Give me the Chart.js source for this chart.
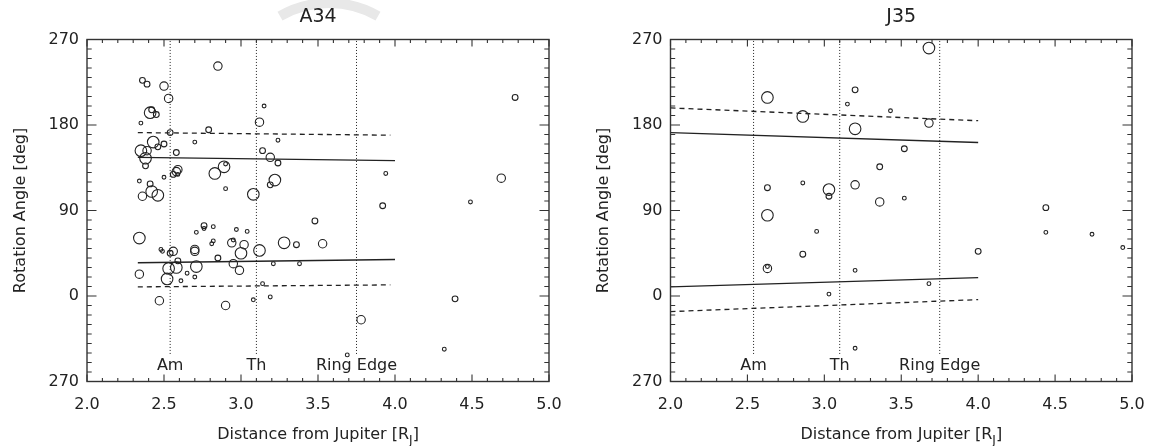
<!DOCTYPE html>
<html>
<head>
<meta charset="utf-8">
<script src="https://cdn.jsdelivr.net/npm/chart.js@4.4.1/dist/chart.umd.min.js"></script>
<style>
  body { margin: 0; background: #fff; }
  #wrap { position: relative; width: 1152px; height: 446px; }
  canvas { position: absolute; top: 0; }
</style>
</head>
<body>
<div id="wrap">
  <canvas id="left" width="576" height="446" style="left:0"></canvas>
  <canvas id="right" width="576" height="446" style="left:576px"></canvas>
</div>
<script>
// ---- data: A34 ----
var a34X = [2.85, 2.36, 2.39, 2.50, 2.53, 2.41, 2.42, 2.45, 2.35, 2.54, 2.79, 3.12, 3.15, 3.24, 2.70,
            2.35, 2.43, 2.39, 2.38, 2.46, 2.50, 2.58, 2.38, 3.14, 3.19, 3.24, 2.89, 2.90, 2.83, 2.59,
            2.58, 2.56, 2.59, 2.50, 2.34, 2.41, 2.42, 2.36, 2.46, 2.90, 3.08, 3.19, 3.22, 3.94, 3.92,
            4.49, 4.69, 4.78, 2.34, 2.76, 2.76, 2.82, 2.97, 3.04, 2.71, 3.48, 2.82, 2.81, 2.94, 2.95,
            3.02, 3.00, 3.12, 3.28, 3.36, 3.53, 2.48, 2.49, 2.54, 2.56, 2.70, 2.70, 2.59, 2.71, 2.85,
            2.95, 2.99, 3.21, 3.38, 2.34, 2.53, 2.58, 2.52, 2.65, 2.70, 2.61, 3.14, 2.47, 2.90, 3.08,
            3.19, 4.39, 3.78, 4.32, 3.69];
var a34Y = [242, 227, 223, 221, 208, 193, 196, 191, 182, 172, 175, 183, 200, 164, 162,
            153, 162, 153, 145, 157, 160, 151, 137, 153, 146, 140, 136, 139, 129, 133,
            131, 128, 128, 125, 121, 118, 110, 105, 106, 113, 107, 117, 122, 129, 95,
            99, 124, 209, 61, 74, 71, 73, 70, 68, 67, 79, 58, 55, 56, 59,
            54, 45, 48, 56, 54, 55, 49, 47, 45, 47, 49, 47, 37, 31, 40,
            34, 27, 34, 34, 23, 29, 30, 18, 24, 20, 16, 13, -5, -10, -4,
            -1, -3, -25, -56, -62];
// weight class of each event (1 = weakest .. 4 = strongest)
var a34W = [3, 2, 2, 3, 3, 4, 2, 2, 1, 2, 2, 3, 1, 1, 1,
            4, 4, 3, 4, 2, 2, 2, 2, 2, 3, 2, 4, 1, 4, 3,
            3, 2, 1, 1, 1, 2, 4, 3, 4, 1, 4, 2, 4, 1, 2,
            1, 3, 2, 4, 2, 1, 1, 1, 1, 1, 2, 1, 1, 3, 1,
            3, 4, 4, 4, 2, 3, 1, 1, 2, 3, 3, 3, 2, 4, 2,
            3, 3, 1, 1, 3, 4, 4, 4, 1, 1, 1, 1, 3, 3, 1,
            1, 2, 3, 1, 1];
var a34FitX = [2.33, 4.0];
var a34SolidUpper = [146, 142.6];
var a34SolidLower = [35, 38.4];
var a34DashX = [2.33, 3.97];
var a34DashUpper = [172, 169.3];
var a34DashLower = [9.6, 11.7];

// ---- data: J35 ----
var j35X = [3.68, 2.63, 3.20, 3.15, 3.43, 2.86, 3.20, 3.68, 3.52, 3.36, 2.63, 2.86, 3.03, 3.03, 3.20,
            3.36, 3.52, 4.44, 2.63, 2.95, 4.44, 4.74, 4.94, 4.00, 2.86, 2.63, 2.63, 3.20, 3.68, 3.03,
            3.20];
var j35Y = [261, 209, 217, 202, 195, 189, 176, 182, 155, 136, 114, 119, 112, 105, 117,
            99, 103, 93, 85, 68, 67, 65, 51, 47, 44, 29, 31, 27, 13, 2,
            -55];
var j35W = [4, 4, 2, 1, 1, 4, 4, 3, 2, 2, 2, 1, 4, 2, 3,
            3, 1, 2, 4, 1, 1, 1, 1, 2, 2, 3, 1, 1, 1, 1,
            1];
var j35FitX = [2.0, 4.0];
var j35SolidUpper = [172, 161.6];
var j35SolidLower = [9.6, 19.4];
var j35DashX = [2.0, 4.0];
var j35DashUpper = [198, 184.5];
var j35DashLower = [-16.4, -3.8];

// ---- ring boundaries ----
var boundX = [2.54, 3.1, 3.75];
var boundNames = ['Am', 'Th', 'Ring Edge'];
var boundSpan = [-61, 270];
var boundLabelY = -74;

// ---- axes ----
var xTicks = [2.0, 2.5, 3.0, 3.5, 4.0, 4.5, 5.0];
var yTicks = [-90, 0, 90, 180, 270];
var yTickLabels = ['270', '0', '90', '180', '270'];

var radiusOf = [0, 1.9, 2.9, 4.2, 5.8];
var ink = '#222';
var font = 'DejaVu Sans';

function pairs(xs, ys) {
  return xs.map(function (x, i) { return { x: x, y: ys[i] }; });
}

function lineSet(xs, ys, dash, w) {
  return {
    type: 'line', data: pairs(xs, ys), showLine: true, pointRadius: 0,
    borderColor: ink, borderWidth: w, borderDash: dash, fill: false
  };
}

var frame = {
  id: 'frame',
  beforeDraw: function (chart) {
    // faint grey arc along the top edge of the left panel
    if (!chart.options.plugins.frame.mark) return;
    var ctx = chart.ctx;
    ctx.save();
    ctx.strokeStyle = '#e8e8e8';
    ctx.lineWidth = 10;
    ctx.beginPath();
    ctx.arc(329, 101, 98, 240 * Math.PI / 180, 300 * Math.PI / 180);
    ctx.stroke();
    ctx.restore();
  },
  afterDraw: function (chart) {
    var ctx = chart.ctx, a = chart.chartArea, xs = chart.scales.x, ys = chart.scales.y;
    var o = chart.options.plugins.frame;
    ctx.save();
    ctx.strokeStyle = '#333';
    ctx.lineWidth = 1.4;
    ctx.strokeRect(a.left, a.top, a.right - a.left, a.bottom - a.top);
    ctx.lineWidth = 1.1;
    ctx.beginPath();
    for (var i = 0; i <= 30; i++) {
      var px = xs.getPixelForValue(2 + i * 0.1);
      var l = i % 5 === 0 ? 7 : 3.5;
      ctx.moveTo(px, a.bottom); ctx.lineTo(px, a.bottom - l);
      ctx.moveTo(px, a.top); ctx.lineTo(px, a.top + l);
    }
    for (var j = 0; j <= 36; j++) {
      var py = ys.getPixelForValue(-90 + j * 10);
      var m = j % 9 === 0 ? 9.5 : 4.7;
      ctx.moveTo(a.left, py); ctx.lineTo(a.left + m, py);
      ctx.moveTo(a.right, py); ctx.lineTo(a.right - m, py);
    }
    ctx.stroke();

    // boundary names
    ctx.fillStyle = ink;
    ctx.font = '16px ' + font;
    ctx.textAlign = 'center';
    ctx.textBaseline = 'middle';
    boundX.forEach(function (b, k) {
      ctx.fillText(boundNames[k], xs.getPixelForValue(b), ys.getPixelForValue(boundLabelY));
    });

    // panel title
    var cx = (a.left + a.right) / 2;
    ctx.font = '19px ' + font;
    ctx.fillText(o.title, cx, 17);

    // x-axis title with subscript
    var main = 'Distance from Jupiter [R';
    ctx.font = '12px ' + font;
    var wSub = ctx.measureText('J').width;
    ctx.font = '16px ' + font;
    var wMain = ctx.measureText(main).width, wEnd = ctx.measureText(']').width;
    var x0 = cx - (wMain + wSub + wEnd) / 2;
    ctx.textAlign = 'left';
    ctx.fillText(main, x0, 435);
    ctx.font = '12px ' + font;
    ctx.fillText('J', x0 + wMain, 441);
    ctx.font = '16px ' + font;
    ctx.fillText(']', x0 + wMain + wSub, 435);
    ctx.restore();
  }
};

function makeChart(id, title, xs, ys, ws, fitX, sU, sL, dashX, dU, dL, leftW, padRight, yTitlePad, mark) {
  var sets = [{
    type: 'scatter', data: pairs(xs, ys), showLine: false,
    pointRadius: function (c) { return radiusOf[ws[c.dataIndex]]; },
    pointBackgroundColor: 'rgba(0,0,0,0)', pointBorderColor: ink, pointBorderWidth: 1.1
  },
    lineSet(fitX, sU, [], 1.3), lineSet(fitX, sL, [], 1.3),
    lineSet(dashX, dU, [5, 4], 1.3), lineSet(dashX, dL, [5, 4], 1.3)];
  boundX.forEach(function (b) {
    sets.push(lineSet([b, b], boundSpan, [1, 2], 1));
  });

  return new Chart(document.getElementById(id).getContext('2d'), {
    type: 'scatter',
    data: { datasets: sets },
    options: {
      responsive: false,
      animation: false,
      events: [],
      layout: { padding: { top: 39.5, right: padRight, left: 0, bottom: 0 } },
      plugins: { legend: { display: false }, tooltip: { enabled: false }, frame: { title: title, mark: mark } },
      scales: {
        x: {
          type: 'linear', min: 2, max: 5,
          afterBuildTicks: function (s) { s.ticks = xTicks.map(function (v) { return { value: v }; }); },
          afterFit: function (s) { s.height = 64.5; },
          grid: { display: false, drawTicks: false },
          border: { display: false },
          ticks: {
            padding: 3, color: ink, font: { family: font, size: 16, lineHeight: 2.6 },
            callback: function (v) { return Number(v).toFixed(1); }
          }
        },
        y: {
          type: 'linear', min: -90, max: 270,
          afterBuildTicks: function (s) { s.ticks = yTicks.map(function (v) { return { value: v }; }); },
          afterFit: function (s) { s.width = leftW; },
          grid: { display: false, drawTicks: false },
          border: { display: false },
          ticks: {
            padding: 8, color: ink, font: { family: font, size: 16 },
            callback: function (v) { return yTickLabels[yTicks.indexOf(v)]; }
          },
          title: {
            display: true, text: 'Rotation Angle [deg]', color: ink,
            font: { family: font, size: 16 }, padding: { top: yTitlePad, bottom: 0 }
          }
        }
      }
    },
    plugins: [frame]
  });
}

makeChart('left', 'A34', a34X, a34Y, a34W, a34FitX, a34SolidUpper, a34SolidLower,
          a34DashX, a34DashUpper, a34DashLower, 87, 27, 11, true);
makeChart('right', 'J35', j35X, j35Y, j35W, j35FitX, j35SolidUpper, j35SolidLower,
          j35DashX, j35DashUpper, j35DashLower, 94.5, 20, 18, false);
</script>
</body>
</html>
